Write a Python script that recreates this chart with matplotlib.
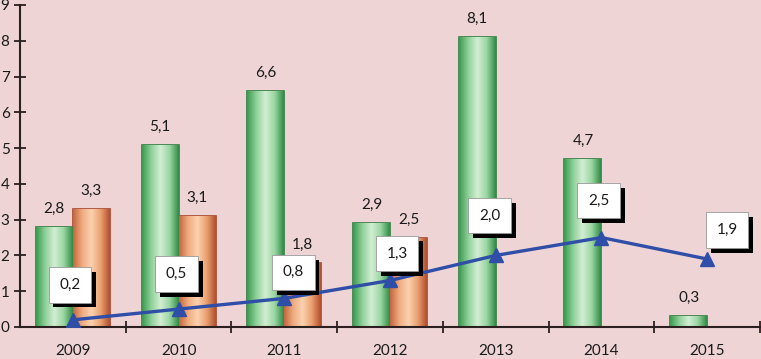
import numpy as np
import matplotlib
matplotlib.use('Agg')
import matplotlib.pyplot as plt
import matplotlib.patheffects as pe

# ----------------------------------------------------------------------------------------------------------------------

years = ['2009', '2010', '2011', '2012', '2013', '2014', '2015']
green_vals = [2.8, 5.1, 6.6, 2.9, 8.1, 4.7, 0.3]
orange_vals = [3.3, 3.1, 1.8, 2.5]
line_vals = [0.2, 0.5, 0.8, 1.3, 2.0, 2.5, 1.9]

# label box offsets from the line markers, in pixels (layout only)
box_offsets = [(-3, 35), (-2, 35), (9, 26), (7, 27), (-6, 40), (-3, 37), (20, 29)]

BG = '#efd4d5'
DARK = '#2b1f1f'

plt.rcParams['font.family'] = ['Lato', 'DejaVu Sans']


def fmt(v):
    return f'{v:.1f}'.replace('.', ',')


def gradient_bars(ax, bars, stops):
    xs = np.linspace(0, 1, 256)
    cols = np.array([matplotlib.colors.to_rgb(c) for c in stops])
    pos = np.linspace(0, 1, len(stops))
    img = np.stack([np.interp(xs, pos, cols[:, i]) for i in range(3)], axis=-1)[None, :, :]
    for b in bars:
        x0, y0 = b.get_x(), b.get_y()
        w, h = b.get_width(), b.get_height()
        im = ax.imshow(img, extent=[x0, x0 + w, y0, y0 + h], aspect='auto', zorder=b.get_zorder(),
                       interpolation='bilinear')
        im.set_clip_path(b)
        b.set_facecolor('none')


# ----------------------------------------------------------------------------------------------------------------------

fig = plt.figure(figsize=(7.61, 3.59), dpi=100, facecolor=BG)
ax = fig.add_axes([20 / 761, 32 / 359, 740 / 761, 322 / 359])
ax.set_facecolor(BG)

x = np.arange(len(years))
w = 0.35

gbars = ax.bar(x - w / 2, green_vals, width=w, edgecolor='#2f7d3f', linewidth=1.2, zorder=2)
obars = ax.bar(x[:len(orange_vals)] + w / 2, orange_vals, width=w, edgecolor='#a8452a', linewidth=1.2, zorder=2)
gradient_bars(ax, gbars, ['#3a9a4e', '#8fd09a', '#d3eed3', '#9ad6a2', '#2f8a44'])
gradient_bars(ax, obars, ['#c4653e', '#f0ac80', '#fbd2ae', '#eaa070', '#b24e2c'])

for b, v in zip(list(gbars) + list(obars), green_vals + orange_vals):
    ax.annotate(fmt(v), (b.get_x() + b.get_width() / 2, v), xytext=(0, 18), textcoords='offset pixels',
                ha='center', va='center', fontsize=11, color='#1a1a1a')

ax.plot(x, line_vals, color='#2f4ea8', linewidth=2.4, marker='^', markersize=10, zorder=4)

for xi, v, (dx, dy) in zip(x, line_vals, box_offsets):
    t = ax.annotate(fmt(v), (xi, v), xytext=(dx, dy), textcoords='offset pixels', ha='center', va='center',
                    fontsize=11, color='#1a1a1a', zorder=6,
                    bbox=dict(boxstyle='square,pad=0.7', fc='white', ec='#999999', lw=0.6))
    t.get_bbox_patch().set_path_effects([
        pe.SimplePatchShadow(offset=(3.5, -3.5), shadow_rgbFace='black', alpha=1.0), pe.Normal()])

ax.set_xlim(-0.5, len(years) - 0.5)
ax.set_ylim(0, 9)
ax.set_yticks(range(0, 10))
ax.set_xticks(x)
ax.set_xticklabels(years)
ax.set_xticks(np.arange(0.5, len(years), 1), minor=True)

for s in ['top', 'right']:
    ax.spines[s].set_visible(False)
for s in ['left', 'bottom']:
    ax.spines[s].set_color(DARK)
    ax.spines[s].set_linewidth(1.5)

ax.tick_params(axis='x', which='major', length=0, pad=12, labelsize=11, colors='#1a1a1a')
ax.tick_params(axis='x', which='minor', direction='inout', length=9, width=1.3, color=DARK)
ax.tick_params(axis='y', direction='inout', length=9, width=1.3, color=DARK, pad=3, labelsize=11,
               labelcolor='#1a1a1a')

fig.savefig('out.png', dpi=100, facecolor=BG)
